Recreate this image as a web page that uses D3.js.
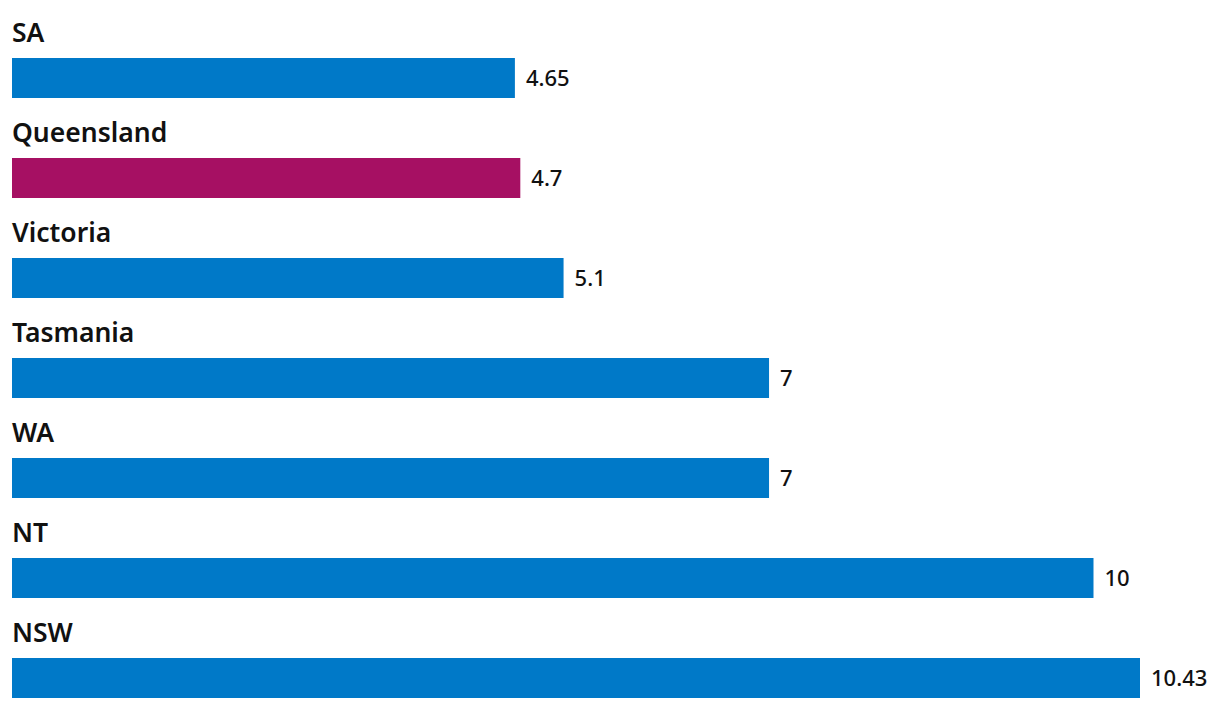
<!DOCTYPE html>
<html>
<head>
<meta charset="utf-8">
<script src="https://cdn.jsdelivr.net/npm/d3@7"></script>
<style>
  body { margin: 0; background: #fff; }
  svg text { font-family: "Noto Sans", sans-serif; fill: #111; }
</style>
</head>
<body>
<svg id="chart" width="1220" height="708"></svg>
<script>
var states = ["SA", "Queensland", "Victoria", "Tasmania", "WA", "NT", "NSW"];
var values = [4.65, 4.7, 5.1, 7, 7, 10, 10.43];
var highlight = ["Queensland"];

var margin = {top: 0, left: 12, right: 80};
var rowH = 100, barH = 40, barTop = 58;

var svg = d3.select("#chart");

var x = d3.scaleLinear()
          .domain([0, 10.43])
          .range([margin.left, 1140]);

var y = d3.scaleBand()
          .domain(states)
          .range([0, rowH * states.length]);

var rows = svg.selectAll("g.row")
  .data(states.map(function(s, i) { return {name: s, value: values[i]}; }))
  .enter().append("g")
  .attr("class", "row")
  .attr("transform", function(d) { return "translate(0," + y(d.name) + ")"; });

rows.append("text")
    .attr("x", margin.left)
    .attr("y", 42)
    .style("font-size", "26.5px")
    .style("font-weight", 600)
    .text(function(d) { return d.name; });

rows.append("rect")
    .attr("x", x(0))
    .attr("y", barTop)
    .attr("height", barH)
    .attr("width", function(d) { return x(d.value) - x(0); })
    .attr("fill", function(d) {
      return highlight.indexOf(d.name) >= 0 ? "#a61063" : "#0079c8";
    });

rows.append("text")
    .attr("x", function(d) { return x(d.value) + 11; })
    .attr("y", barTop + barH / 2)
    .attr("dy", "0.35em")
    .style("font-size", "22px")
    .style("font-weight", 500)
    .text(function(d) { return d.value; });
</script>
</body>
</html>
